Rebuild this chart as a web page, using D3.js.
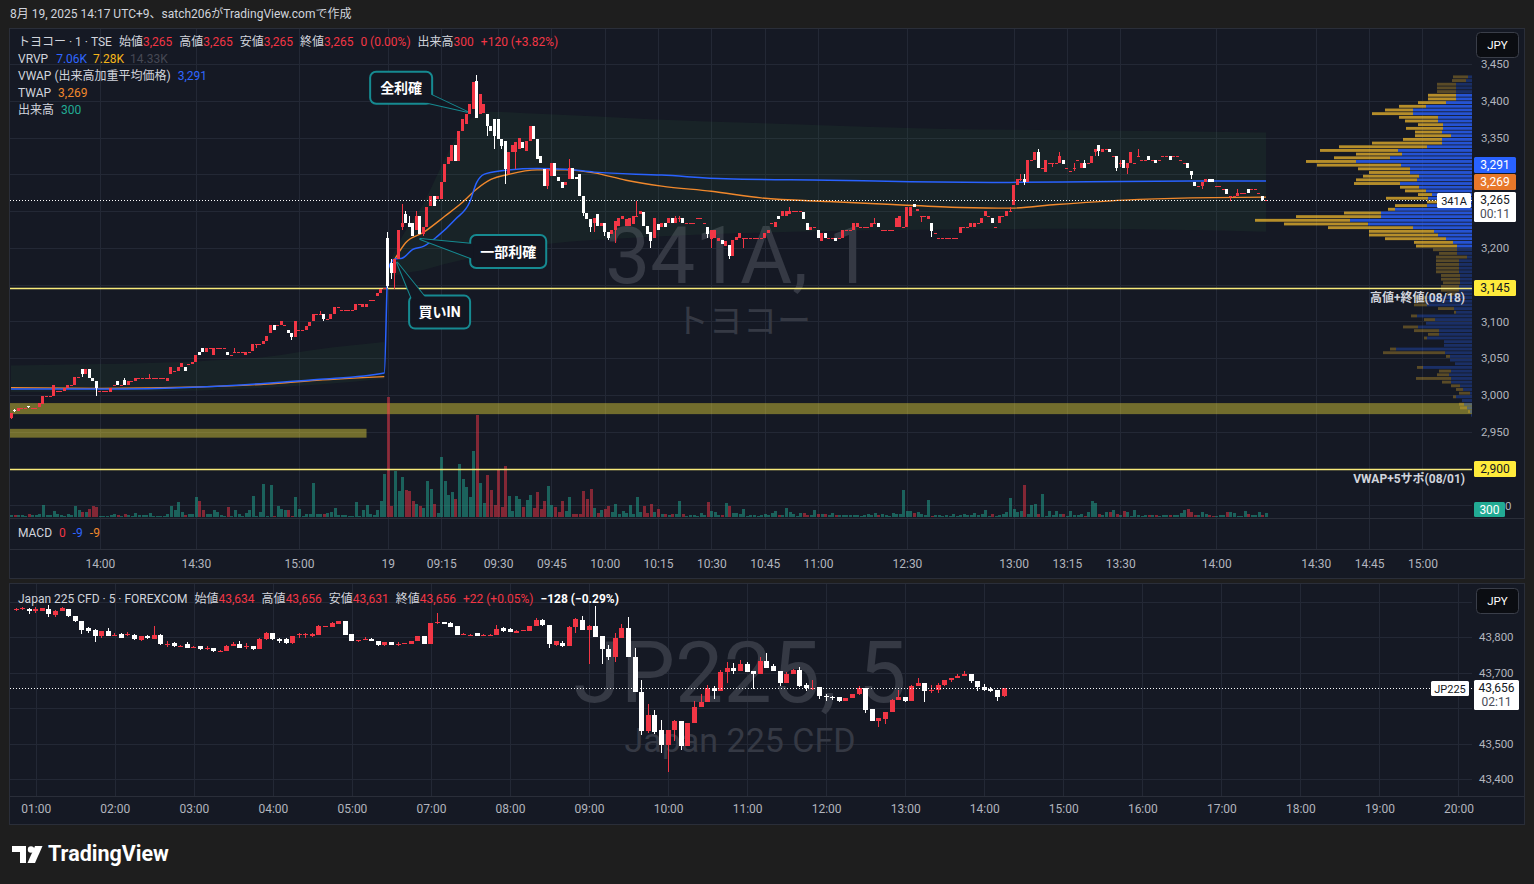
<!DOCTYPE html>
<html lang="ja">
<head>
<meta charset="utf-8">
<title>トヨコー 341A 1分足 / Japan 225 CFD 5分足</title>
<script src="https://d3js.org/d3.v7.min.js"></script>
<style>
  body { margin: 0; background: #1e1e1e; }
  svg { display: block; }
</style>
</head>
<body>
<script>
// ---- data: トヨコー (341A) 1 min, 8/18 13:xx .. 8/19 14:17 ----
// a plain number means a flat bar (open = high = low = close)
var toyoOHLC = [
  [2969,2976,2967,2975],[2980,2981,2977,2978],[2978,2983,2978,2982],2982,2983,[2985,2985,2983,2984],2983,2983,[2984,2989,2984,2989],[2988,2999,2988,2998],
  2999,2999,[2999,3014,2999,3014],3005,3005,[3005,3009,3005,3009],[3009,3014,3009,3014],3014,[3014,3024,3014,3024],3024,
  [3035,3036,3025,3029],[3028,3035,3028,3035],[3035,3035,3023,3023],[3023,3023,3019,3019],[3019,3019,2999,3009],3005,3005,3005,[3004,3009,3004,3009],3014,
  [3019,3019,3014,3014],3014,[3020,3023,3014,3014],[3014,3019,3014,3019],3019,[3019,3023,3019,3023],3023,3023,3023,[3023,3029,3023,3023],
  3023,3023,3023,3023,[3019,3023,3019,3023],[3029,3038,3029,3038],3033,[3033,3038,3033,3038],[3038,3044,3038,3044],[3038,3038,3033,3033],
  3042,[3042,3045,3042,3045],[3045,3055,3045,3055],[3059,3059,3055,3055],[3064,3064,3059,3059],[3059,3064,3059,3064],3064,[3055,3064,3055,3064],3064,3064,
  3064,[3059,3059,3055,3055],3055,[3059,3064,3059,3059],3059,3059,[3055,3059,3055,3059],3059,[3060,3070,3060,3070],[3070,3070,3064,3070],
  3070,[3070,3074,3070,3074],[3074,3080,3074,3080],[3084,3095,3084,3095],[3095,3095,3088,3088],3095,[3095,3100,3095,3100],3095,[3088,3088,3084,3084],[3084,3084,3075,3079],
  [3079,3100,3079,3100],3089,3089,[3089,3094,3089,3094],[3094,3099,3094,3099],[3100,3110,3100,3110],3110,[3110,3114,3110,3110],[3110,3110,3101,3104],3104,
  [3104,3110,3104,3110],[3110,3120,3110,3120],3120,3115,3115,3115,3115,[3115,3124,3115,3124],3124,[3119,3124,3119,3124],
  [3119,3124,3119,3124],3129,3129,[3134,3139,3134,3139],[3139,3144,3139,3144],[3144,3146,3144,3145],
  // 8/19
  [3214,3221,3146,3148],[3180,3185,3158,3166],[3166,3185,3144,3185],[3185,3225,3185,3225],[3228,3259,3225,3234],[3246,3250,3234,3234],[3234,3244,3228,3228],[3234,3234,3216,3216],[3225,3250,3225,3244],[3244,3244,3219,3219],
  [3219,3228,3216,3228],[3228,3255,3228,3255],[3257,3271,3257,3271],[3271,3271,3257,3257],[3266,3271,3266,3271],[3266,3289,3266,3289],[3289,3314,3289,3314],[3314,3323,3314,3323],[3318,3340,3318,3340],[3340,3340,3318,3318],
  [3318,3359,3318,3359],[3359,3375,3359,3375],[3368,3382,3368,3382],[3382,3395,3382,3395],[3389,3425,3389,3425],[3427,3435,3377,3377],[3382,3409,3382,3409],[3384,3395,3384,3395],[3382,3382,3352,3366],
  [3366,3366,3359,3359],[3375,3375,3334,3352],[3375,3375,3348,3348],[3348,3348,3334,3339],[3345,3345,3287,3307],[3300,3330,3300,3330],[3330,3340,3330,3340],[3330,3344,3307,3344],[3334,3349,3334,3349],[3344,3344,3336,3336],
  [3332,3345,3332,3345],[3345,3366,3345,3366],[3366,3366,3348,3348],[3348,3348,3321,3321],[3325,3325,3316,3316],[3307,3307,3284,3284],[3284,3307,3280,3307],[3298,3315,3298,3315],[3315,3315,3298,3298],[3296,3296,3291,3291],
  [3289,3289,3282,3282],[3286,3290,3286,3290],[3293,3321,3293,3309],[3309,3309,3293,3293],[3296,3296,3293,3293],[3300,3300,3271,3271],[3271,3271,3243,3248],[3248,3248,3239,3239],[3239,3239,3221,3228],[3234,3240,3221,3240],
  [3246,3246,3230,3230],[3230,3234,3230,3234],[3234,3234,3216,3221],[3221,3221,3211,3214],[3219,3225,3219,3225],[3225,3237,3207,3237],[3230,3241,3230,3241],[3239,3243,3239,3243],[3230,3239,3230,3239],[3230,3240,3230,3240],
  [3232,3243,3232,3243],[3243,3264,3243,3243],[3246,3250,3246,3250],[3249,3249,3230,3230],[3230,3230,3219,3219],[3221,3221,3200,3209],[3214,3240,3214,3240],[3232,3232,3225,3225],[3228,3234,3228,3234],
  [3234,3234,3228,3228],[3234,3240,3234,3240],[3240,3240,3234,3234],[3234,3244,3234,3240],[3240,3244,3235,3240],[3240,3240,3234,3234],3234,3234,3234,3240,3240,3234,
  [3229,3229,3214,3219],[3212,3225,3200,3225],[3214,3225,3214,3225],[3210,3214,3210,3214],[3211,3211,3205,3205],[3203,3210,3203,3210],[3204,3204,3185,3189],[3189,3211,3189,3211],[3211,3215,3211,3215],[3214,3220,3214,3220],
  [3214,3214,3200,3214],3214,3214,3214,3214,3214,[3214,3220,3214,3220],[3220,3225,3220,3225],3234,[3229,3235,3229,3235],
  [3244,3244,3239,3239],[3244,3250,3244,3250],[3244,3250,3244,3250],[3246,3255,3246,3250],3250,3250,3250,[3249,3249,3239,3239],[3234,3234,3225,3225],[3225,3229,3225,3229],
  3229,[3225,3225,3214,3214],[3210,3220,3210,3220],[3220,3220,3214,3214],3214,3214,[3214,3214,3210,3210],3214,[3214,3225,3214,3225],3225,
  3225,[3225,3234,3225,3234],[3229,3234,3229,3234],3229,3229,3229,[3229,3234,3229,3234],[3234,3240,3232,3234],[3234,3234,3229,3229],3225,
  3225,3225,3225,[3229,3240,3229,3240],[3229,3244,3229,3244],3229,[3229,3256,3229,3255],[3244,3255,3244,3255],[3259,3259,3255,3255],[3250,3253,3250,3253],
  [3244,3244,3235,3244],3244,[3239,3244,3239,3244],[3234,3234,3215,3223],3220,3214,3214,3214,3214,3214,
  3214,[3220,3229,3220,3229],3229,3229,[3229,3234,3229,3234],[3229,3234,3229,3234],3234,[3234,3240,3234,3240],[3244,3250,3244,3250],3244,
  [3240,3240,3234,3234],3229,[3234,3244,3234,3244],3244,[3244,3250,3244,3250],
  [3250,3255,3250,3250],[3258,3285,3258,3285],[3285,3294,3285,3294],[3294,3300,3291,3294],[3294,3300,3285,3289],[3289,3319,3289,3319],3319,[3319,3330,3319,3330],[3330,3334,3309,3309],3309,
  [3303,3319,3303,3319],3315,[3315,3315,3310,3315],3315,[3315,3330,3315,3325],[3319,3319,3314,3314],3309,3304,[3309,3315,3304,3309],3319,
  [3309,3315,3309,3315],[3315,3319,3309,3309],3315,[3315,3325,3315,3325],[3330,3334,3325,3334],[3340,3340,3325,3332],[3330,3334,3330,3334],3334,[3334,3334,3330,3330],3325,
  [3325,3325,3305,3309],[3315,3319,3310,3315],[3319,3319,3309,3309],[3309,3315,3300,3315],[3315,3330,3315,3330],3315,[3325,3334,3325,3325],3319,3319,[3325,3325,3319,3319],
  3319,[3319,3319,3315,3315],3319,3325,3325,[3325,3325,3319,3319],3325,3325,3319,3315,
  [3315,3315,3309,3309],[3304,3304,3294,3299],[3289,3289,3284,3284],3284,[3284,3290,3280,3290],[3290,3294,3290,3294],[3294,3294,3289,3289],[3294,3294,3289,3289],3284,3284,
  3280,[3280,3280,3273,3273],[3270,3270,3264,3270],3270,[3270,3280,3270,3274],3274,3274,[3280,3280,3274,3274],3280,3280,
  3274,[3270,3270,3264,3265],3265
];

// volume per bar (shares)
var toyoVolume = [
  125,125,175,175,75,250,125,125,200,950, 125,125,450,250,125,75,200,125,875,500,
  375,375,575,875,800,75,75,75,125,250, 125,75,200,125,75,325,125,125,125,325,
  75,75,75,75,200,875,500,1125,375,125, 200,250,1550,1200,500,200,200,500,375,125,
  75,750,75,500,250,75,300,500,1625,75, 375,2500,75,2425,75,875,625,500,500,75,
  1500,625,75,250,200,2575,200,250,250,325, 375,675,125,125,125,75,75,1125,75,500,
  950,250,125,500,1250,3250,
  9175,850,3550,1975,3025,2050,1975,1225,1000,850, 700,2725,2125,1000,325,4600,2725,1675,1900,1375,
  4075,2875,2275,1525,5050,7825,2575,1075,3175,2050, 925,3625,775,3925,1600,475,1600,1375,775,1300,
  1675,700,1900,625,1225,2350,925,775,400,1225, 475,1525,250,250,250,1975,1375,2125,700,325,
  550,625,850,400,1000,250,475,325,925,250, 1525,400,850,325,1000,400,625,250,250,175,
  250,250,1225,250,100,175,175,100,325,175, 1150,475,400,175,175,1075,850,325,325,250,
  625,100,175,175,100,175,250,175,325,475, 175,175,700,400,250,100,325,325,175,175,550,
  200,200,200,150,300,150,150,150,150,150, 150,150,100,150,225,150,300,150,225,150,
  100,300,225,225,2100,450,450,300,375,225, 150,1275,100,150,150,100,150,100,225,100,
  150,225,150,150,300,150,225,525,100,225, 100,150,225,375,1425,600,375,450,2475,225,
  900,975,225,1725,100,450,150,450,225,225, 100,450,150,150,225,100,375,1200,1050,225,
  150,375,375,525,225,150,450,375,100,525, 150,100,150,150,150,150,100,150,150,150,
  150,150,300,525,600,375,150,150,375,225, 150,100,100,150,150,375,375,300,100,100,
  450,225,150,150,375,150,300
];

// [bar index, price]
var vwapLine = [[0,3008],[25,3008],[53,3011],[72,3016],[86,3021],[105,3030],[106,3170],[108,3185],[110,3186],[113,3198],[116,3202],[120,3216],[125,3239],[129,3262],[131,3289],[133,3300],[138,3305],[148,3308],[156,3307],[164,3303],[183,3299],[201,3294],[230,3292],[253,3290],[281,3289],[303,3290],[332,3291],[353,3291]];
var twapDay18 = [[0,3010],[25,3009],[53,3011],[72,3015],[86,3020],[105,3025]];
var twapDay19 = [[108,3185],[111,3207],[116,3221],[122,3243],[127,3262],[131,3280],[135,3293],[140,3300],[148,3306],[156,3306],[164,3302],[173,3292],[183,3284],[197,3277],[211,3268],[230,3263],[248,3259],[267,3255],[281,3254],[294,3259],[313,3265],[332,3268],[353,3269]];
// [bar index, upper, lower]
var bandDay18 = [[0,3040,3004],[25,3042,3004],[53,3046,3006],[72,3052,3010],[86,3062,3014],[105,3072,3022]];
var bandDay19 = [[106,3175,3160],[110,3215,3165],[116,3260,3170],[122,3320,3178],[128,3370,3185],[135,3385,3195],[150,3382,3205],[180,3375,3215],[220,3368,3222],[260,3362,3225],[300,3360,3226],[353,3357,3222]];

// visible-range volume profile, 5 yen rows from 3435 down to 2970
var vpTop = 3435, vpRow = 5, vpValueArea = [3200, 3410];
var vpBuy = [4,6,16,16,16,16,16,26,46,59, 59,34,34,29,29,30,21,30,30,45, 74,70,82,116,71,62,62,53,55,72,
  53,46,40,44,34,45,77,91,91,122, 104,59,38,34,26,19,15,15,15,5, 13,13,13,13,12,12,12,13,13,15,
  45,45,45,18,16,55,37,46,54,33, 33,45,28,28,76,27,22,22,17,49, 21,23,21,21,12,9,2,16,10,8, 5,2,1];
var vpSell = [15,14,19,19,19,28,28,28,27,28, 41,39,33,25,37,27,36,39,70,88, 78,46,56,50,84,52,41,56,61,46,
  19,21,14,42,11,32,7,37,85,95, 84,85,65,69,61,39,41,24,18,31, 23,23,23,23,19,19,17,18,18,10,
  13,13,13,16,2,6,11,0,15,25, 11,3,0,0,6,62,4,0,0,6, 12,12,35,9,9,7,11,3,0,5, 7,2,0];

// horizontal levels
var levels = [[3145, "高値+終値(08/18)"], [2900, "VWAP+5サポ(08/01)"]];
var zones = [[2974, 2989, null], [2942, 2954, 100]];   // [low, high, last bar index or null = full width]

var mainGridTicks = [2850,2900,2950,3000,3050,3100,3150,3200,3250,3300,3350,3400,3450];
var mainPriceLabels = [2950,3000,3050,3100,3200,3350,3400,3450];   // others sit under price badges
var mainTickIdx = [25,52,81,106,121,137,152,167,182,197,212,227,252,282,297,312,339,367,382,397];
var mainTickLabels = ["14:00","14:30","15:00","19","09:15","09:30","09:45","10:00","10:15","10:30","10:45","11:00","12:30","13:00","13:15","13:30","14:00","14:30","14:45","15:00"];

var notes = [
  {text: "全利確", idx: 128.3, price: 3385, dx: -97, dy: -40, w: 62, h: 32, t1: [-49,-11], t2: [-38,-18]},
  {text: "一部利確", idx: 115.1, price: 3212, dx: 50, dy: -4, w: 76, h: 33, t1: [53,5], t2: [53,20]},
  {text: "買いIN", idx: 108.6, price: 3180, dx: 12, dy: 33, w: 61, h: 33, t1: [15,37], t2: [29,36]}
];

// ---- data: Japan 225 CFD 5 min, 00:45 .. 14:15 ----
var jpOHLC = [
  [43875,43882,43872,43880],[43880,43884,43876,43881],[43880,43881,43864,43872],[43873,43884,43867,43880],[43873,43882,43872,43881],[43880,43889,43856,43864],[43861,43875,43856,43873],[43873,43884,43873,43882],[43880,43880,43856,43859],[43859,43860,43843,43845],
  [43846,43846,43809,43821],[43826,43828,43811,43817],[43820,43822,43787,43802],[43802,43818,43798,43816],[43816,43825,43802,43803],[43806,43811,43802,43807],[43809,43810,43797,43798],[43808,43815,43802,43809],[43807,43808,43792,43793],[43792,43803,43790,43802],
  [43804,43806,43795,43796],[43793,43830,43793,43807],[43807,43809,43778,43779],[43780,43788,43773,43781],[43783,43786,43773,43774],[43775,43778,43772,43776],[43779,43786,43769,43770],[43772,43774,43768,43773],[43774,43775,43764,43765],[43766,43776,43762,43768],
  [43769,43770,43759,43760],[43760,43762,43758,43761],[43760,43777,43760,43776],[43776,43786,43776,43781],[43781,43789,43768,43770],[43772,43783,43767,43774],[43774,43775,43763,43765],[43765,43796,43765,43795],[43793,43815,43791,43811],[43810,43811,43792,43793],
  [43795,43797,43783,43788],[43793,43798,43779,43783],[43783,43803,43781,43802],[43806,43811,43798,43808],[43807,43811,43798,43808],[43803,43810,43800,43809],[43807,43833,43806,43830],[43829,43831,43828,43830],[43828,43841,43828,43839],[43838,43845,43838,43844],
  [43844,43844,43807,43807],[43809,43809,43788,43789],[43789,43792,43787,43791],[43792,43800,43792,43793],[43795,43796,43788,43789],[43788,43789,43776,43777],[43777,43786,43776,43786],[43786,43787,43777,43778],[43780,43786,43774,43781],[43781,43783,43780,43782],
  [43781,43789,43781,43788],[43788,43802,43788,43802],[43802,43802,43781,43781],[43781,43840,43781,43839],[43839,43867,43837,43841],[43843,43843,43837,43837],[43840,43841,43827,43828],[43830,43830,43807,43807],[43808,43810,43807,43809],[43806,43808,43805,43807],
  [43811,43812,43803,43804],[43806,43808,43805,43807],[43806,43809,43805,43807],[43807,43834,43807,43823],[43826,43828,43815,43816],[43823,43824,43813,43814],[43812,43819,43812,43818],[43818,43820,43817,43819],[43818,43830,43818,43830],[43830,43853,43830,43849],
  [43849,43850,43832,43833],[43834,43834,43769,43779],[43777,43789,43776,43788],
  [43783,43790,43773,43776],[43776,43830,43776,43829],[43828,43854,43811,43850],[43849,43858,43820,43820],[43820,43833,43725,43832],[43830,43886,43800,43800],[43802,43802,43723,43765],
  [43767,43778,43736,43745],[43745,43811,43729,43798],[43798,43837,43797,43826],[43826,43856,43743,43745],[43745,43769,43645,43645],[43645,43678,43523,43534],[43534,43612,43530,43581],[43581,43595,43528,43532],[43537,43567,43473,43497],[43497,43539,43420,43539],
  [43539,43567,43508,43563],[43563,43563,43483,43492],[43492,43557,43492,43557],[43557,43621,43557,43602],[43602,43640,43602,43617],[43617,43665,43617,43656],[43656,43661,43626,43647],[43647,43708,43647,43701],[43701,43729,43670,43713],[43713,43727,43696,43704],
  [43704,43734,43704,43723],[43723,43729,43701,43701],[43704,43704,43654,43695],[43695,43743,43695,43732],[43732,43756,43713,43713],[43717,43725,43703,43703],[43704,43704,43661,43670],[43670,43701,43670,43695],[43695,43711,43695,43706],[43706,43715,43660,43661],
  [43664,43670,43648,43657],[43657,43680,43651,43657],[43659,43659,43626,43635],[43635,43640,43620,43632],[43632,43635,43623,43630],[43630,43630,43618,43619],[43619,43628,43619,43628],[43628,43640,43628,43640],[43640,43661,43638,43656],[43656,43656,43586,43595],
  [43597,43597,43563,43563],[43563,43572,43546,43571],[43568,43590,43554,43590],[43590,43625,43590,43623],[43623,43651,43622,43632],[43632,43632,43617,43620],[43620,43664,43620,43661],[43661,43685,43661,43671],[43671,43671,43617,43649],[43650,43665,43642,43652],
  [43651,43670,43642,43665],[43665,43680,43663,43679],[43679,43685,43673,43684],[43684,43696,43684,43690],[43690,43704,43689,43696],[43696,43697,43670,43675],[43675,43676,43648,43659],[43659,43668,43647,43651],[43653,43659,43646,43647],[43650,43650,43621,43631],
  [43634,43656,43631,43656]
];
var jpGridTicks = [43400,43500,43600,43700,43800,43900];
var jpPriceLabels = [43400,43500,43700,43800];
var jpTickIdx = [3,15,27,39,51,63,75,87,99,111,123,135,147,159,171,183,195,207,219];
var jpTickLabels = ["01:00","02:00","03:00","04:00","05:00","07:00","08:00","09:00","10:00","11:00","12:00","13:00","14:00","15:00","16:00","17:00","18:00","19:00","20:00"];

// ---- drawing ----
var W = 1534, H = 884;
var FONT = "Roboto, 'Noto Sans CJK JP', sans-serif";
var BG = "#151924", GRID = "#232835", TXT = "#d1d4dc", AXT = "#b2b5be";
var UP = "#f23645", DOWN = "#ffffff";
var plotL = 10, plotR = 1472;

var svg = d3.select("body").append("svg")
  .attr("width", W).attr("height", H)
  .attr("font-family", FONT);

svg.append("rect").attr("width", W).attr("height", H).attr("fill", "#1e1e1e");
svg.append("text").attr("x", 10).attr("y", 18).attr("fill", TXT).attr("font-size", 12)
  .text("8月 19, 2025 14:17 UTC+9、satch206がTradingView.comで作成");

// pane frames
svg.append("rect").attr("x", 9.5).attr("y", 28.5).attr("width", 1515).attr("height", 550)
  .attr("fill", BG).attr("stroke", "#2a2e39");
svg.append("rect").attr("x", 9.5).attr("y", 583.5).attr("width", 1515).attr("height", 241)
  .attr("fill", BG).attr("stroke", "#2a2e39");

var defs = svg.append("defs");
defs.append("clipPath").attr("id", "clipMain").append("rect")
  .attr("x", plotL).attr("y", 29).attr("width", plotR - plotL).attr("height", 489);
defs.append("clipPath").attr("id", "clipJp").append("rect")
  .attr("x", plotL).attr("y", 584).attr("width", plotR - plotL).attr("height", 212);

var bars = toyoOHLC.map(function(d) { return typeof d === "number" ? [d, d, d, d] : d; });

var xMain = d3.scaleLinear().domain([0, bars.length - 1]).range([11, 1266]);
var yMain = d3.scaleLinear().domain([3000, 3450]).range([395, 64]);
var yVol = d3.scaleLinear().domain([0, d3.max(toyoVolume)]).range([517, 397]);
var xJp = d3.scaleLinear().domain([0, jpOHLC.length - 1]).range([16, 1004]);
var yJp = d3.scaleLinear().domain([43400, 43800]).range([779, 637]);

// ---- main pane grid ----
var gGrid = svg.append("g");
gGrid.selectAll(".hg").data(mainGridTicks).enter().append("line")
  .attr("x1", plotL).attr("x2", plotR)
  .attr("y1", function(d) { return Math.round(yMain(d)) + 0.5; })
  .attr("y2", function(d) { return Math.round(yMain(d)) + 0.5; })
  .attr("stroke", GRID);
gGrid.selectAll(".vg").data(mainTickIdx).enter().append("line")
  .attr("x1", function(d) { return Math.round(xMain(d)) + 0.5; })
  .attr("x2", function(d) { return Math.round(xMain(d)) + 0.5; })
  .attr("y1", 29).attr("y2", 549).attr("stroke", GRID);
[518.5, 549.5].forEach(function(y) {
  svg.append("line").attr("x1", 10).attr("x2", 1524).attr("y1", y).attr("y2", y).attr("stroke", "#2a2e39");
});

var gMain = svg.append("g").attr("clip-path", "url(#clipMain)");

// watermark
gMain.append("text").attr("x", 739).attr("y", 283).attr("text-anchor", "middle")
  .attr("font-size", 80).attr("fill", "#353944").text("341A, 1");
gMain.append("text").attr("x", 743).attr("y", 333).attr("text-anchor", "middle")
  .attr("font-size", 34).attr("fill", "#353944").text("トヨコー");

// VWAP bands
var band = d3.area().curve(d3.curveMonotoneX)
  .x(function(d) { return xMain(d[0]); })
  .y0(function(d) { return yMain(d[2]); })
  .y1(function(d) { return yMain(d[1]); });
[bandDay18, bandDay19].forEach(function(b) {
  gMain.append("path").attr("d", band(b)).attr("fill", "rgba(76,175,80,0.07)");
});

// zones
zones.forEach(function(z) {
  var x1 = z[2] === null ? plotR : xMain(z[2]);
  gMain.append("rect").attr("x", plotL).attr("width", x1 - plotL)
    .attr("y", yMain(z[1])).attr("height", yMain(z[0]) - yMain(z[1]))
    .attr("fill", "rgba(255,235,59,0.4)");
});

// volume profile
var vpTotal = vpBuy.map(function(b, i) { return b + vpSell[i]; });
var xVp = d3.scaleLinear().domain([0, d3.max(vpTotal)]).range([0, 217]);
vpBuy.forEach(function(b, i) {
  var hi = vpTop - vpRow * i, lo = hi - vpRow;
  var y0 = yMain(hi) + 0.4, hh = yMain(lo) - yMain(hi) - 0.8;
  var inVA = lo >= vpValueArea[0] && hi <= vpValueArea[1];
  var wb = xVp(b), ws = xVp(vpSell[i]);
  gMain.append("rect").attr("x", plotR - wb).attr("y", y0).attr("width", wb).attr("height", hh)
    .attr("fill", inVA ? "rgba(41,98,255,0.8)" : "rgba(41,98,255,0.3)");
  gMain.append("rect").attr("x", plotR - wb - ws).attr("y", y0).attr("width", ws).attr("height", hh)
    .attr("fill", inVA ? "rgba(251,192,45,0.7)" : "rgba(251,192,45,0.3)");
});

// volume
gMain.selectAll(".vol").data(toyoVolume).enter().append("rect")
  .attr("shape-rendering", "crispEdges")
  .attr("x", function(d, i) { return Math.round(xMain(i)) - 1; })
  .attr("width", 3)
  .attr("y", function(d) { return yVol(d); })
  .attr("height", function(d) { return 517 - yVol(d); })
  .attr("fill", function(d, i) { return bars[i][3] >= bars[i][0] ? "#22ab94" : "#f23645"; })
  .attr("fill-opacity", 0.5);

// levels
levels.forEach(function(l) {
  var y = Math.round(yMain(l[0])) + 0.5;
  gMain.append("line").attr("x1", plotL).attr("x2", plotR).attr("y1", y).attr("y2", y)
    .attr("stroke", "#f8ea7a").attr("stroke-width", 1.5);
  svg.append("text").attr("x", 1465).attr("y", y + 13).attr("text-anchor", "end")
    .attr("font-size", 12).attr("font-weight", "bold").attr("fill", TXT).text(l[1]);
});

// VWAP / TWAP
var line = d3.line().curve(d3.curveMonotoneX)
  .x(function(d) { return xMain(d[0]); })
  .y(function(d) { return yMain(d[1]); });
gMain.append("path").attr("d", line(twapDay18)).attr("fill", "none").attr("stroke", "#f0882c").attr("stroke-width", 1.4);
gMain.append("path").attr("d", line(twapDay19)).attr("fill", "none").attr("stroke", "#f0882c").attr("stroke-width", 1.4);
gMain.append("path").attr("d", line(vwapLine)).attr("fill", "none").attr("stroke", "#2962ff").attr("stroke-width", 1.5);

// candles
function drawCandles(g, data, x, y, bw) {
  var c = g.selectAll(null).data(data).enter().append("g").attr("shape-rendering", "crispEdges");
  c.append("rect")
    .attr("x", function(d, i) { return Math.round(x(i) - bw / 2) + Math.floor(bw / 2); })
    .attr("width", 1)
    .attr("y", function(d) { return y(d[1]); })
    .attr("height", function(d) { return Math.max(1, y(d[2]) - y(d[1])); })
    .attr("fill", function(d) { return d[3] >= d[0] ? UP : DOWN; });
  c.append("rect")
    .attr("x", function(d, i) { return Math.round(x(i) - bw / 2); })
    .attr("width", bw)
    .attr("y", function(d) { return y(Math.max(d[0], d[3])); })
    .attr("height", function(d) { return Math.max(1, Math.abs(y(d[0]) - y(d[3]))); })
    .attr("fill", function(d) { return d[3] >= d[0] ? UP : DOWN; });
}
drawCandles(gMain, bars, xMain, yMain, 3);

// last price line
var lastMain = bars[bars.length - 1][3];
gMain.append("line").attr("x1", plotL).attr("x2", plotR)
  .attr("y1", Math.round(yMain(lastMain)) + 0.5).attr("y2", Math.round(yMain(lastMain)) + 0.5)
  .attr("stroke", "#ffffff").attr("stroke-dasharray", "1,2");

// callouts
var gNote = svg.append("g");
notes.forEach(function(n) {
  var ax = xMain(n.idx), ay = yMain(n.price);
  var tail = "M" + (ax + n.t1[0]) + "," + (ay + n.t1[1]) + "L" + ax + "," + ay + "L" + (ax + n.t2[0]) + "," + (ay + n.t2[1]) + "Z";
  gNote.append("path").attr("d", tail).attr("fill", "#131722").attr("stroke", "#168a91").attr("stroke-width", 2).attr("stroke-linejoin", "round");
  gNote.append("rect").attr("x", ax + n.dx).attr("y", ay + n.dy).attr("width", n.w).attr("height", n.h).attr("rx", 6)
    .attr("fill", "#131722").attr("stroke", "#168a91").attr("stroke-width", 2);
  gNote.append("path").attr("d", tail).attr("fill", "#131722");
  gNote.append("text").attr("x", ax + n.dx + n.w / 2).attr("y", ay + n.dy + n.h / 2 + 5)
    .attr("text-anchor", "middle").attr("font-size", 14).attr("font-weight", "bold").attr("fill", "#ffffff").text(n.text);
});

// main price axis
var gYMain = svg.append("g").attr("transform", "translate(" + plotR + ",0)")
  .call(d3.axisRight(yMain).tickValues(mainPriceLabels).tickSize(0).tickPadding(9).tickFormat(d3.format(",")));
gYMain.select(".domain").remove();
gYMain.attr("font-family", FONT).attr("font-size", 11.5);
gYMain.selectAll("text").attr("fill", AXT);

// main time axis
var gXMain = svg.append("g").attr("transform", "translate(0,553)")
  .call(d3.axisBottom(xMain).tickValues(mainTickIdx).tickSize(0).tickPadding(6)
    .tickFormat(function(d, i) { return mainTickLabels[i]; }));
gXMain.select(".domain").remove();
gXMain.attr("font-family", FONT).attr("font-size", 12);
gXMain.selectAll("text").attr("fill", AXT);

// axis badges
function badge(x, y, w, h, bg, fg, lines, size) {
  svg.append("rect").attr("x", x).attr("y", y).attr("width", w).attr("height", h).attr("rx", 1.5).attr("fill", bg);
  lines.forEach(function(t, i) {
    svg.append("text").attr("x", x + w / 2).attr("y", y + 12 + i * 14).attr("text-anchor", "middle")
      .attr("font-size", size || 12).attr("fill", i === 0 ? fg : "#4a4d57").text(t);
  });
}
var yl = Math.round(yMain(lastMain));
badge(1474, yl - 8, 42, 30, "#ffffff", "#131722", [d3.format(",")(lastMain), "00:11"]);
badge(1474, yl - 26, 42, 16, "#e8782a", "#ffffff", [d3.format(",")(twapDay19[twapDay19.length - 1][1])]);
badge(1474, yl - 43, 42, 16, "#2962ff", "#ffffff", [d3.format(",")(vwapLine[vwapLine.length - 1][1])]);
badge(1437, yl - 7, 34, 15, "#ffffff", "#131722", ["341A"], 11);
levels.forEach(function(l) {
  badge(1474, Math.round(yMain(l[0])) - 8, 42, 16, "#ffeb3b", "#131722", [d3.format(",")(l[0])]);
});
// volume scale zero and current volume
svg.append("text").attr("x", 1505).attr("y", yVol(0) - 7).attr("font-size", 11.5).attr("fill", AXT).text("0");
badge(1474, yVol(toyoVolume[toyoVolume.length - 1]) - 11, 31, 15, "#22ab94", "#ffffff", [String(toyoVolume[toyoVolume.length - 1])]);

// legends
function legend(x, y, parts) {
  var t = svg.append("text").attr("x", x).attr("y", y).attr("font-size", 12);
  parts.forEach(function(p) {
    t.append("tspan").attr("dx", p[2] || 0).attr("fill", p[1]).attr("font-weight", p[3] || null).text(p[0]);
  });
}
legend(18, 46, [["トヨコー · 1 · TSE", TXT], ["始値", TXT, 7], ["3,265", UP], ["高値", TXT, 7], ["3,265", UP],
  ["安値", TXT, 7], ["3,265", UP], ["終値", TXT, 7], ["3,265", UP], ["0 (0.00%)", UP, 7],
  ["出来高", TXT, 7], ["300", UP], ["+120 (+3.82%)", UP, 7]]);
legend(18, 63, [["VRVP", TXT], ["7.06K", "#2f66ff", 8], ["7.28K", "#f5b51a", 6], ["14.33K", "#454854", 6]]);
legend(18, 80, [["VWAP (出来高加重平均価格)", TXT], ["3,291", "#2f66ff", 7]]);
legend(18, 97, [["TWAP", TXT], ["3,269", "#f0882c", 7]]);
legend(18, 114, [["出来高", TXT], ["300", "#22ab94", 7]]);
legend(18, 537, [["MACD", TXT], ["0", UP, 7], ["-9", "#2f66ff", 7], ["-9", "#f0882c", 7]]);

// ---- Japan 225 pane ----
var gGrid2 = svg.append("g");
gGrid2.selectAll(".hg").data(jpGridTicks).enter().append("line")
  .attr("x1", plotL).attr("x2", plotR)
  .attr("y1", function(d) { return Math.round(yJp(d)) + 0.5; })
  .attr("y2", function(d) { return Math.round(yJp(d)) + 0.5; })
  .attr("stroke", GRID);
gGrid2.selectAll(".vg").data(jpTickIdx).enter().append("line")
  .attr("x1", function(d) { return Math.round(xJp(d)) + 0.5; })
  .attr("x2", function(d) { return Math.round(xJp(d)) + 0.5; })
  .attr("y1", 584).attr("y2", 796).attr("stroke", GRID);
svg.append("line").attr("x1", 10).attr("x2", 1524).attr("y1", 796.5).attr("y2", 796.5).attr("stroke", "#2a2e39");

var gJp = svg.append("g").attr("clip-path", "url(#clipJp)");
gJp.append("text").attr("x", 740).attr("y", 702).attr("text-anchor", "middle")
  .attr("font-size", 86).attr("fill", "#353944").text("JP225, 5");
gJp.append("text").attr("x", 740).attr("y", 752).attr("text-anchor", "middle")
  .attr("font-size", 34).attr("fill", "#353944").text("Japan 225 CFD");
drawCandles(gJp, jpOHLC, xJp, yJp, 5);
var lastJp = jpOHLC[jpOHLC.length - 1][3];
gJp.append("line").attr("x1", plotL).attr("x2", plotR)
  .attr("y1", Math.round(yJp(lastJp)) + 0.5).attr("y2", Math.round(yJp(lastJp)) + 0.5)
  .attr("stroke", "#ffffff").attr("stroke-dasharray", "1,2");

var gYJp = svg.append("g").attr("transform", "translate(" + plotR + ",0)")
  .call(d3.axisRight(yJp).tickValues(jpPriceLabels).tickSize(0).tickPadding(7).tickFormat(d3.format(",")));
gYJp.select(".domain").remove();
gYJp.attr("font-family", FONT).attr("font-size", 11.5);
gYJp.selectAll("text").attr("fill", AXT);

var gXJp = svg.append("g").attr("transform", "translate(0,798)")
  .call(d3.axisBottom(xJp).tickValues(jpTickIdx).tickSize(0).tickPadding(6)
    .tickFormat(function(d, i) { return jpTickLabels[i]; }));
gXJp.select(".domain").remove();
gXJp.attr("font-family", FONT).attr("font-size", 12);
gXJp.selectAll("text").attr("fill", AXT);

var yj = Math.round(yJp(lastJp));
badge(1474, yj - 8, 45, 30, "#ffffff", "#131722", [d3.format(",")(lastJp), "02:11"]);
badge(1431, yj - 7, 38, 15, "#ffffff", "#131722", ["JP225"], 11);

legend(18, 603, [["Japan 225 CFD · 5 · FOREXCOM", TXT], ["始値", TXT, 7], ["43,634", UP], ["高値", TXT, 7], ["43,656", UP],
  ["安値", TXT, 7], ["43,631", UP], ["終値", TXT, 7], ["43,656", UP], ["+22 (+0.05%)", UP, 7],
  ["−128 (−0.29%)", "#ffffff", 7, "bold"]]);

// JPY buttons
[32, 588].forEach(function(y) {
  svg.append("rect").attr("x", 1476.5).attr("y", y + 0.5).attr("width", 42).attr("height", 25).attr("rx", 4)
    .attr("fill", "#0b0d12").attr("stroke", "#3a3e49");
  svg.append("text").attr("x", 1497.5).attr("y", y + 17).attr("text-anchor", "middle")
    .attr("font-size", 11.5).attr("fill", "#ffffff").text("JPY");
});

// ---- footer logo ----
var logo = svg.append("g").attr("fill", "#ffffff");
logo.append("path").attr("d", "M12 846h14v17h-6v-11h-8z");
logo.append("circle").attr("cx", 31).attr("cy", 849.5).attr("r", 3.2);
logo.append("path").attr("d", "M35 846h7.5l-7.5 17h-7.5z");
logo.append("text").attr("x", 48).attr("y", 861).attr("font-size", 21.5).attr("font-weight", "bold")
  .attr("font-family", "Roboto, sans-serif").text("TradingView");
</script>
</body>
</html>
